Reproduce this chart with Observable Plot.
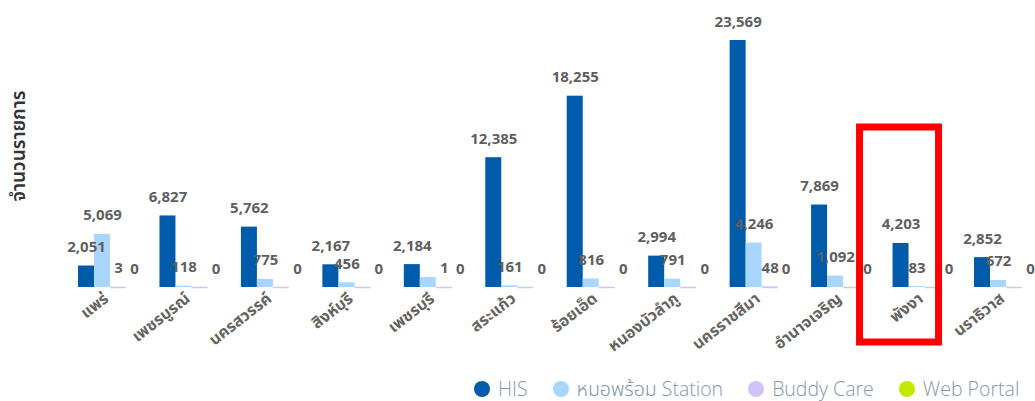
<!DOCTYPE html>
<html>
<head>
<meta charset="utf-8">
<script src="https://cdn.jsdelivr.net/npm/d3@7"></script>
<script src="https://cdn.jsdelivr.net/npm/@observablehq/plot@0.6"></script>
<style>
  body { margin: 0; background: #fff; font-family: "Open Sans", "Noto Sans", "Noto Sans Thai", "Leelawadee UI", sans-serif; }
  #wrap { position: relative; width: 1035px; height: 401px; overflow: hidden; }
  #ylabel { position: absolute; left: 18px; top: 146px; transform: translate(-50%, -50%) rotate(-90deg);
    white-space: nowrap; font-size: 19px; font-weight: 600; color: #333; line-height: 1.2; }
  #legend { position: absolute; top: 379px; left: 474px; display: flex; align-items: center; gap: 25px;
    font-size: 19.5px; font-weight: 300; color: #8298ab; line-height: 20px; }
  .item { display: flex; align-items: center; gap: 8px; }
  .dot { width: 16px; height: 16px; border-radius: 50%; display: inline-block; }
</style>
</head>
<body>
<div id="wrap">
  <div id="chart"></div>
  <div id="ylabel"></div>
  <div id="legend"></div>
</div>
<script>
const provinces = ["แพร่","เพชรบูรณ์","นครสวรรค์","สิงห์บุรี","เพชรบุรี","สระแก้ว","ร้อยเอ็ด","หนองบัวลำภู","นครราชสีมา","อำนาจเจริญ","พังงา","นราธิวาส"];
const seriesNames = ["HIS","หมอพร้อม Station","Buddy Care","Web Portal"];
const seriesColors = ["#005BAA","#A8D6FF","#D0C3F5","#C3E900"];
const his = [2051,6827,5762,2167,2184,12385,18255,2994,23569,7869,4203,2852];
const station = [5069,118,775,456,950,161,816,791,4246,1092,83,672];
const buddy = [3,null,null,null,1,null,null,null,48,null,null,null];
const web = [0,0,0,0,0,0,0,0,0,0,0,0];
const hiddenLabels = [["เพชรบุรี","หมอพร้อม Station"]];
const highlight = "พังงา";
const yTitle = "จำนวนรายการ";

const seriesValues = [his, station, buddy, web];
const data = [];
provinces.forEach((p, i) => {
  seriesNames.forEach((s, j) => {
    data.push({province: p, series: s, value: seriesValues[j][i]});
  });
});
const isHidden = d => hiddenLabels.some(([p, s]) => p === d.province && s === d.series);
const fmt = d3.format(",");

const chart = Plot.plot({
  width: 1035,
  height: 375,
  marginLeft: 78,
  marginRight: -3,
  marginTop: 40,
  marginBottom: 88,
  style: {fontFamily: "'Open Sans', 'Noto Sans', 'Noto Sans Thai', sans-serif", background: "transparent"},
  fx: {domain: provinces, paddingInner: 0.2143, paddingOuter: 0, round: false, label: null},
  x: {domain: seriesNames, padding: 0, round: false, axis: null},
  y: {domain: [0, d3.max(his)], axis: null},
  color: {domain: seriesNames, range: seriesColors},
  marks: [
    Plot.barY(data.filter(d => d.value != null), {fx: "province", x: "series", y: "value", fill: "series"}),
    Plot.tickY(data.filter(d => d.series === "Buddy Care"), {fx: "province", x: "series", y: () => 0, stroke: seriesColors[2], strokeWidth: 1.5}),
    Plot.text(data.filter(d => d.value != null && !isHidden(d)), {
      fx: "province", x: "series", y: "value", text: d => fmt(d.value),
      lineAnchor: "bottom", dy: -14, fill: "#5f5f5f", fontWeight: 700, fontSize: 15
    }),
    Plot.axisFx({anchor: "bottom", tickRotate: -38, tickSize: 0, tickPadding: 9, label: null,
      fontSize: 16, fontWeight: 700, fill: "#66645f", dx: -4}),
    Plot.rect([{province: highlight}], {fx: "province", stroke: "red", strokeWidth: 7, fill: "none",
      insetLeft: -33, insetRight: 18, insetTop: 87, insetBottom: -55})
  ]
});
document.getElementById("chart").appendChild(chart);
document.getElementById("ylabel").textContent = yTitle;

const legend = document.getElementById("legend");
seriesNames.forEach((s, j) => {
  const item = document.createElement("div");
  item.className = "item";
  const dot = document.createElement("span");
  dot.className = "dot";
  dot.style.background = seriesColors[j];
  const label = document.createElement("span");
  label.textContent = s;
  item.appendChild(dot);
  item.appendChild(label);
  legend.appendChild(item);
});
</script>
</body>
</html>
